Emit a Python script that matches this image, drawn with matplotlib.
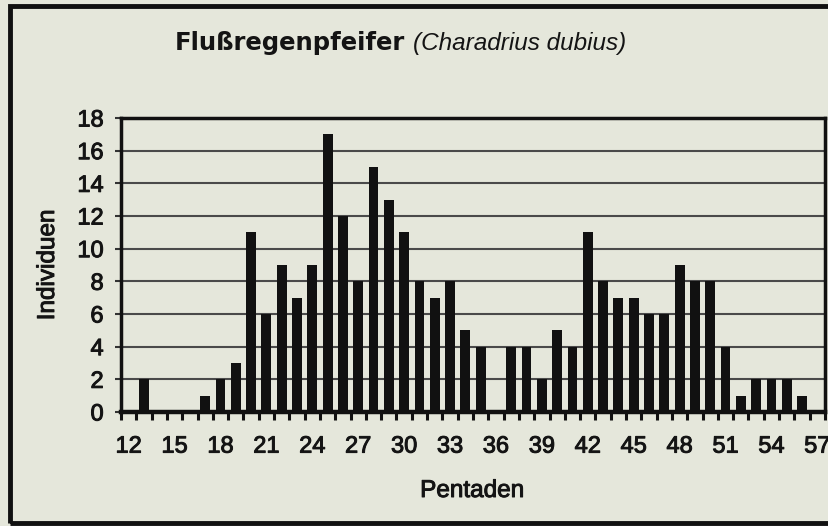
import matplotlib
matplotlib.use("Agg")
import matplotlib.pyplot as plt
import matplotlib.patheffects as pe
from matplotlib.patches import Rectangle
import numpy as np

pentads = list(range(12, 58))
individuals = [0, 2, 0, 0, 0, 1, 2, 3, 11, 6, 9, 7, 9, 17, 12, 8, 15, 13, 11, 8,
               7, 8, 5, 4, 0, 4, 4, 2, 5, 4, 11, 8, 7, 7, 6, 6, 9, 8, 8, 4,
               1, 2, 2, 2, 1, 0]
xtick_labels = list(range(12, 58, 3))
ytick_vals = list(range(0, 19, 2))

bg = '#e5e7db'
ink = '#141414'
heavy = [pe.withStroke(linewidth=0.7, foreground=ink)]
plt.rcParams['font.family'] = ['Liberation Sans', 'DejaVu Sans']

W, H = 829, 526
fig = plt.figure(figsize=(W/100, H/100), dpi=100, facecolor=bg)
ax = fig.add_axes([121/W, 1-412/H, 704/W, 294/H])
ax.set_facecolor(bg)

ax.bar(pentads, individuals, width=0.64, color='#111111', zorder=3)

ax.set_xlim(11.5, 57.5)
ax.set_ylim(0, 18)
ax.set_yticks(ytick_vals)
ax.set_yticklabels([str(v) for v in ytick_vals], fontsize=17, color=ink)
ax.set_xticks(xtick_labels)
ax.set_xticklabels([str(v) for v in xtick_labels], fontsize=17, color=ink)
for lbl in ax.get_xticklabels() + ax.get_yticklabels():
    lbl.set_path_effects(heavy)
ax.set_xticks(np.arange(11.5, 58, 1), minor=True)
ax.tick_params(axis='x', which='major', length=0, pad=17)
ax.tick_params(axis='x', which='minor', length=6, width=2.2, direction='out', color='#111111')
ax.tick_params(axis='y', which='major', length=4.5, width=1.5, direction='out', pad=8, color='#333333')

ax.grid(axis='y', color='#4a4a4a', linewidth=1.5, zorder=1)
for side in ['left', 'top', 'right']:
    ax.spines[side].set_linewidth(2.5)
    ax.spines[side].set_color('#111111')
ax.spines['bottom'].set_linewidth(3.2)
ax.spines['bottom'].set_color('#111111')

fig.text(48/W, 1-265/H, 'Individuen', fontsize=17.5, rotation=90,
         ha='center', va='center', color=ink, path_effects=heavy)
fig.text(472/W, 1-497/H, 'Pentaden', fontsize=17.5,
         ha='center', va='baseline', color=ink, path_effects=heavy)

fig.text(405/W, 1-50/H, 'Flußregenpfeifer', fontsize=17.5, fontweight='bold',
         family=['DejaVu Sans'], ha='right', va='baseline', color=ink)
fig.text(413/W, 1-50/H, '(Charadrius dubius)', fontsize=17.5, fontstyle='italic',
         ha='left', va='baseline', color=ink)

frame = Rectangle((10.5/W, 1-523/H), 1.05, (523-6)/H, transform=fig.transFigure,
                  fill=False, edgecolor='#111111', linewidth=3.5, clip_on=False)
fig.patches.append(frame)

fig.savefig('out.png', dpi=100, facecolor=bg)
